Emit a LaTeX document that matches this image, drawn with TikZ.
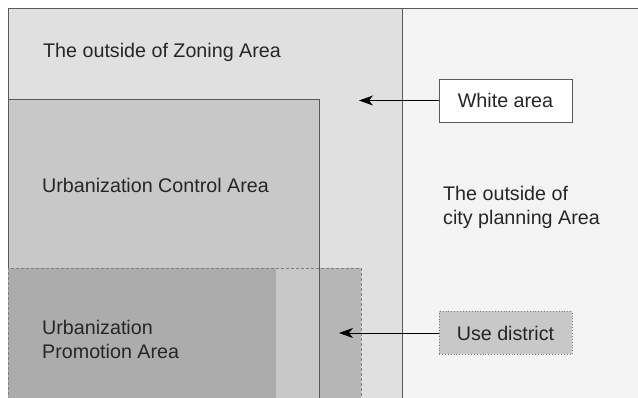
\documentclass[tikz,border=0pt]{standalone}
\usepackage{fontspec}
\setmainfont{Liberation Sans}
\usetikzlibrary{arrows.meta}

\definecolor{outgray}{gray}{0.955}
\definecolor{zonegray}{gray}{0.88}
\definecolor{ctrlgray}{gray}{0.785}
\definecolor{promogray}{gray}{0.675}
\definecolor{usegray}{gray}{0.715}
\definecolor{edgegray}{gray}{0.35}

\tikzset{
  area/.style={draw=edgegray, line width=0.9pt},
  lbl/.style={anchor=west, inner sep=0pt, align=left,
    font=\fontsize{19.7}{24}\selectfont, text=black!85},
  tagbox/.style={minimum width=133pt, minimum height=43pt, inner sep=0pt,
    font=\fontsize{19.7}{24}\selectfont, text=black!85, line width=0.9pt},
  ptr/.style={-{Stealth[length=14pt,width=10pt,inset=4pt]}, line width=0.9pt}
}

\begin{document}
\begin{tikzpicture}[x=1pt, y=-1pt]
  \useasboundingbox (0,0) rectangle (638,398);
  \clip (0,0) rectangle (638,398);
  % city planning area and zoning area
  \filldraw[area, fill=outgray] (8,8) rectangle (660,420);
  \filldraw[area, fill=zonegray] (8,8) rectangle (402,420);
  % urbanization control area
  \filldraw[area, fill=ctrlgray] (8,99) rectangle (319,420);
  % urbanization promotion area
  \fill[promogray] (8,268) rectangle (276,420);
  \fill[ctrlgray] (276,268) rectangle (319,420);
  \fill[usegray] (319,268) rectangle (361,420);
  \draw[area] (319,268) -- (319,420);
  \draw[area, draw=black!50, dash pattern=on 3pt off 2pt] (8,420) -- (8,268) -- (361,268) -- (361,420);

  \node[lbl] (zonelbl) at (43,52) {The outside of Zoning Area};
  \node[lbl] (ctrllbl) at (42,185) {Urbanization Control Area};
  \node[lbl] (promolbl) at (42,339) {Urbanization\\Promotion Area};
  \node[lbl] (citylbl) at (443,207) {The outside of\\city planning Area};

  \node[tagbox, draw=edgegray, fill=white] (white) at (505.5,100.5) {White area};
  \node[tagbox, draw=black!50, dotted, fill=ctrlgray] (use) at (505.5,333) {Use district};

  \coordinate (whitetip) at (359,100.5);
  \coordinate (usetip) at (339,333);
  \draw[ptr] (white.west) -- (whitetip);
  \draw[ptr] (use.west) -- (usetip);
\end{tikzpicture}
\end{document}
